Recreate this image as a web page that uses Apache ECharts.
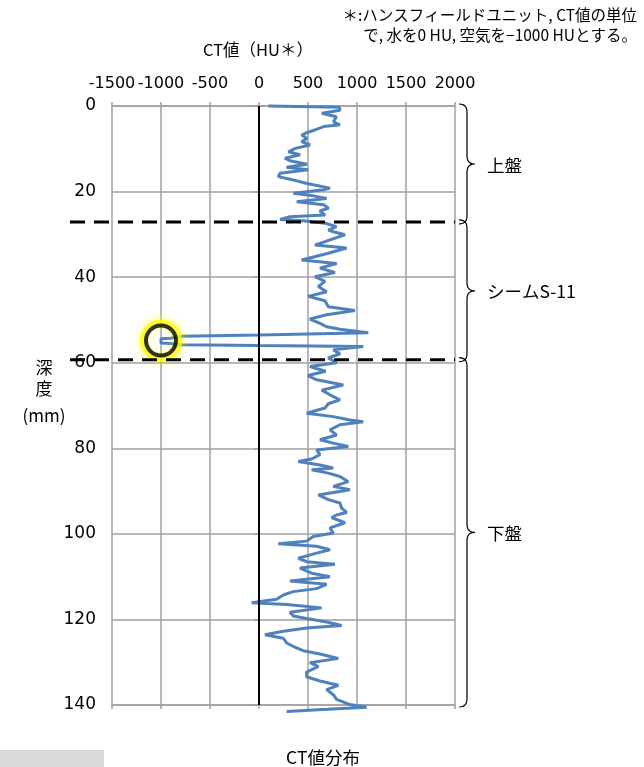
<!DOCTYPE html>
<html>
<head>
<meta charset="utf-8">
<script src="https://cdn.jsdelivr.net/npm/echarts@6/dist/echarts.min.js"></script>
<style>
  html, body { margin: 0; padding: 0; background: #fff; }
  #chart { width: 644px; height: 767px; }
</style>
</head>
<body>
<div id="chart"></div>
<script>
// CT value profile along core depth
const depthMm = [
  0, 0.3, 1.0, 1.7, 2.5, 3.7, 4.4, 4.8, 5.6, 6.2, 6.8, 7.6, 8.3, 9.1, 9.9, 10.7, 11.4, 12.2, 12.8, 13.6,
  14.3, 14.9, 15.7, 16.5, 17.1, 18.1, 19.2, 19.6, 20.4, 21.0, 21.6, 22.4, 23.1, 23.9, 24.5, 25.5, 25.9, 26.5, 26.8, 27.4,
  28.2, 29.0, 29.4, 30.1, 31.3, 32.5, 33.2, 34.4, 36.0, 36.8, 37.9, 38.9, 39.9, 41.0, 42.2, 43.4, 44.5, 45.5, 46.9, 47.8,
  48.8, 49.8, 50.8, 51.6, 52.2, 53.0, 53.3, 53.5, 53.8, 54.3, 54.4, 55.4, 55.5, 55.8, 56.0, 56.2, 57.0, 57.9, 58.9, 60.0,
  60.9, 62.0, 63.0, 64.0, 65.2, 66.4, 67.5, 68.7, 69.6, 70.6, 71.8, 72.6, 73.4, 73.8, 74.5, 75.7, 76.9, 78.0, 78.8, 79.6,
  80.4, 81.5, 82.5, 83.1, 83.9, 84.6, 85.0, 85.8, 86.6, 87.8, 88.9, 89.7, 90.9, 92.0, 92.8, 94.0, 95.0, 95.6, 96.2, 97.4,
  98.6, 99.8, 100.6, 101.7, 102.3, 102.9, 103.7, 104.5, 105.7, 106.5, 107.1, 108.0, 109.2, 110.0, 111.0, 111.8, 112.8, 113.5, 114.3, 115.3,
  116.1, 116.5, 117.3, 118.3, 119.2, 119.8, 120.6, 121.4, 122.0, 122.8, 123.6, 124.4, 125.5, 126.5, 127.3, 128.1, 129.1, 130.1, 131.0, 132.3,
  133.4, 134.4, 135.4, 136.4, 137.6, 138.7, 139.9, 140.5, 141.0, 141.5
];
const ctValueHU = [
  95, 820, 826, 640, 790, 760, 826, 660, 570, 490, 435, 490, 435, 520, 370, 300, 420, 265, 316, 490,
  280, 500, 215, 197, 316, 490, 725, 660, 350, 555, 690, 385, 660, 710, 620, 675, 316, 215, 450, 675,
  790, 707, 760, 877, 724, 571, 894, 707, 435, 792, 622, 775, 571, 673, 605, 690, 503, 673, 707, 979,
  690, 520, 622, 690, 826, 1115, 1110, 0, -790, -900, -1000, -1000, -900, -790, 0, 1064, 758, 826, 707, 792,
  520, 680, 500, 590, 860, 640, 724, 826, 707, 673, 486, 758, 928, 1064, 826, 724, 792, 622, 758, 911,
  588, 622, 537, 401, 622, 758, 537, 707, 826, 911, 758, 928, 605, 707, 826, 843, 894, 790, 741, 877,
  724, 758, 554, 486, 197, 588, 724, 588, 401, 486, 775, 418, 537, 724, 316, 690, 588, 350, 248, 180,
  -75, 282, 639, 316, 350, 486, 690, 843, 486, 231, 61, 248, 282, 367, 452, 622, 809, 520, 605, 486,
  486, 622, 809, 690, 758, 792, 928, 1098, 700, 282
];

// axis settings
const xTicks = { min: -1500, max: 2000, step: 500 };
const yTicks = { min: 0, max: 140, step: 20 };

// zone boundaries (depth, mm) and zone names
const zoneBounds = [0, 27.1, 59.3, 140];
const zoneNames = ['上盤', 'シームS-11', '下盤'];

// highlighted air-like point
const highlight = [-1000, 54.8];

const profile = depthMm.map((d, i) => [ctValueHU[i], d]);

const chart = echarts.init(document.getElementById('chart'));
const FONT = '"Noto Sans CJK JP", "Noto Sans", sans-serif';
const NUMFONT = '"DejaVu Sans", sans-serif';
const gridGray = '#a0a0a0';

chart.setOption({
  animation: false,
  backgroundColor: '#fff',
  grid: { left: 112, right: 189, top: 106, bottom: 62 },
  xAxis: [{
    type: 'value', position: 'top',
    min: xTicks.min, max: xTicks.max, interval: xTicks.step,
    axisLine: { show: true, lineStyle: { color: gridGray, width: 1.5 } },
    axisTick: { show: true, length: 4, lineStyle: { color: gridGray, width: 1.5 } },
    axisLabel: {
      color: '#000', fontSize: 16, fontFamily: NUMFONT, margin: 14,
      showMinLabel: true, showMaxLabel: true, hideOverlap: false,
      formatter: v => String(v)
    },
    splitLine: { show: true, lineStyle: { color: gridGray, width: 1.5 } }
  }, {
    type: 'value', position: 'bottom',
    min: xTicks.min, max: xTicks.max, interval: xTicks.step,
    axisLine: { show: true, lineStyle: { color: gridGray, width: 1.5 } },
    axisTick: { show: true, length: 4, lineStyle: { color: gridGray, width: 1.5 } },
    axisLabel: { show: false },
    splitLine: { show: false }
  }],
  yAxis: {
    type: 'value', inverse: true,
    min: yTicks.min, max: yTicks.max, interval: yTicks.step,
    axisLine: { show: true, lineStyle: { color: gridGray, width: 1.5 } },
    axisTick: { show: true, length: 5, lineStyle: { color: gridGray, width: 1.5 } },
    axisLabel: {
      color: '#000', fontSize: 17, fontFamily: NUMFONT, margin: 16,
      showMinLabel: true, showMaxLabel: true,
      formatter: v => String(v)
    },
    splitLine: { show: true, lineStyle: { color: gridGray, width: 1.5 } }
  },
  series: [{
    type: 'line',
    data: profile,
    showSymbol: false,
    clip: false,
    z: 3,
    lineStyle: { color: '#4F81BD', width: 3 },
    markLine: {
      silent: true, symbol: 'none', label: { show: false },
      lineStyle: { color: '#000', type: 'solid', width: 2 },
      data: [{ xAxis: 0 }]
    }
  }, {
    // yellow halo
    type: 'scatter',
    data: [highlight],
    symbol: 'circle',
    symbolSize: 36,
    z: 4,
    silent: true,
    itemStyle: {
      color: 'rgba(0,0,0,0)',
      borderColor: 'rgba(255,255,0,0.95)', borderWidth: 6,
      shadowBlur: 8, shadowColor: 'rgba(255,255,0,0.9)'
    }
  }, {
    // black ring
    type: 'scatter',
    data: [highlight],
    symbol: 'circle',
    symbolSize: 30,
    z: 5,
    itemStyle: {
      color: 'rgba(0,0,0,0)',
      borderColor: '#000', borderWidth: 4
    }
  }]
});

// sample a quadratic curve into points
function quad(p0, c, p1, n) {
  const pts = [];
  for (let k = 1; k <= n; k++) {
    const t = k / n, u = 1 - t;
    pts.push([u * u * p0[0] + 2 * u * t * c[0] + t * t * p1[0],
              u * u * p0[1] + 2 * u * t * c[1] + t * t * p1[1]]);
  }
  return pts;
}

// Annotations positioned from the axes: zone boundaries, braces, labels
function drawAnnotations() {
  const xLeft = chart.convertToPixel({ xAxisIndex: 0 }, xTicks.min);
  const xRight = chart.convertToPixel({ xAxisIndex: 0 }, xTicks.max);
  const py = d => chart.convertToPixel({ yAxisIndex: 0 }, d);
  const els = [];

  // dashed boundary lines between zones
  zoneBounds.slice(1, -1).forEach(d => {
    const y = py(d);
    els.push({
      type: 'line', z: 10,
      shape: { x1: xLeft - 42, y1: y, x2: xRight, y2: y },
      style: { stroke: '#000', lineWidth: 3, lineDash: [15, 9] }
    });
  });

  // braces and zone names
  const bx = xRight + 4;
  const c = 8;
  for (let i = 0; i < zoneNames.length; i++) {
    const y1 = py(zoneBounds[i]) - 2, y2 = py(zoneBounds[i + 1]) + 2;
    const ym = (y1 + y2) / 2;
    let pts = [[bx, y1]];
    pts = pts.concat(quad([bx, y1], [bx + c, y1], [bx + c, y1 + c], 6));
    pts.push([bx + c, ym - c]);
    pts = pts.concat(quad([bx + c, ym - c], [bx + c, ym], [bx + 2 * c, ym], 6));
    pts = pts.concat(quad([bx + 2 * c, ym], [bx + c, ym], [bx + c, ym + c], 6));
    pts.push([bx + c, y2 - c]);
    pts = pts.concat(quad([bx + c, y2 - c], [bx + c, y2], [bx, y2], 6));
    els.push({
      type: 'polyline', z: 10,
      shape: { points: pts },
      style: { fill: null, stroke: '#000', lineWidth: 1.2 }
    });
    els.push({
      type: 'text', z: 10, x: bx + 2 * c + 12, y: ym + 1,
      style: { text: zoneNames[i], fill: '#000', font: '17.5px ' + FONT, verticalAlign: 'middle' }
    });
  }

  // axis titles and notes
  els.push({
    type: 'text', x: 258, y: 50,
    style: { text: 'CT値（HU＊）', fill: '#000', font: '16.5px ' + FONT, align: 'center', verticalAlign: 'middle' }
  });
  els.push({
    type: 'text', x: 637, y: 15,
    style: { text: '＊:ハンスフィールドユニット, CT値の単位', fill: '#000', font: '15.5px ' + FONT, align: 'right', verticalAlign: 'middle' }
  });
  els.push({
    type: 'text', x: 637, y: 35,
    style: { text: 'で, 水を0 HU, 空気を−1000 HUとする。', fill: '#000', font: '15.5px ' + FONT, align: 'right', verticalAlign: 'middle' }
  });
  [['深', 368], ['度', 389], ['(mm)', 416]].forEach(([t, y]) => {
    els.push({
      type: 'text', x: 44, y: y,
      style: { text: t, fill: '#000', font: '17px ' + FONT, align: 'center', verticalAlign: 'middle' }
    });
  });
  els.push({
    type: 'text', x: 323, y: 757,
    style: { text: 'CT値分布', fill: '#000', font: '17.5px ' + FONT, align: 'center', verticalAlign: 'middle' }
  });
  els.push({
    type: 'rect', shape: { x: 0, y: 750, width: 104, height: 17 },
    style: { fill: '#d9d9d9' }
  });

  chart.setOption({ graphic: els });
}
drawAnnotations();
</script>
</body>
</html>
